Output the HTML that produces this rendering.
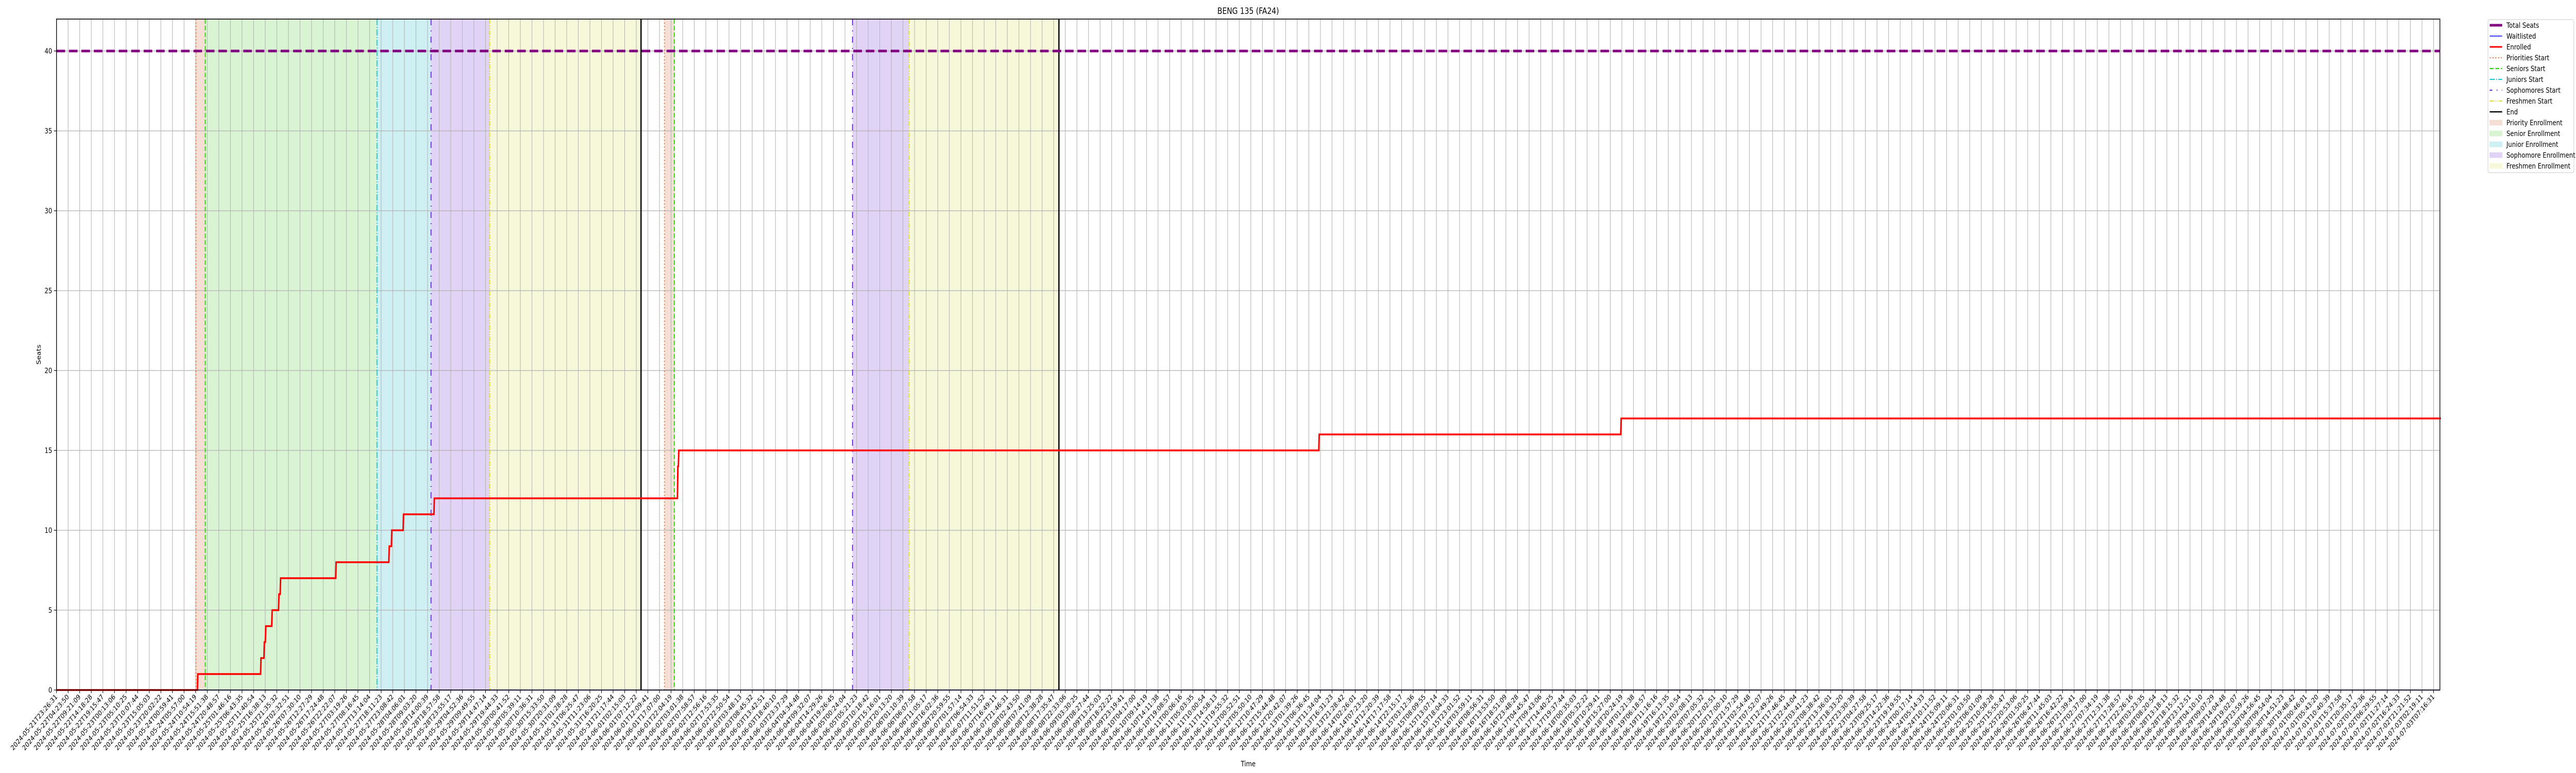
<!DOCTYPE html>
<html><head><meta charset="utf-8"><style>
html,body{margin:0;padding:0;background:#fff;width:100%;height:100%;overflow:hidden;}
svg{display:block;width:100vw;height:100vh;font-family:"DejaVu Sans","Liberation Sans",sans-serif;}
</style></head><body>
<svg id="chart" viewBox="0 0 6000 1500" preserveAspectRatio="none" xmlns="http://www.w3.org/2000/svg" overflow="hidden">
<g id="fills"></g><g id="grid"></g><g id="events"></g><g id="series"></g><g id="axes"></g><g id="legend"></g>
</svg>
<script>
// ---- data (x values in tick-index units) ----
const yTicks = [0,5,10,15,20,25,30,35,40];
const totalSeats = 40;
const enrolledX = [0,12.15,17.60,17.89,18.01,18.56,19.15,19.29,24.08,28.66,28.88,29.89,32.55,53.55,53.63,54.67,108.86,134.90,205.6];
const enrolledY = [0,1,2,3,4,5,6,7,8,9,10,11,12,14,15,15,16,17,17];
const eventNames = ["priority","senior","junior","sophomore","freshmen","end","priority","senior","sophomore","freshmen","end"];
const eventX = [12.03,12.83,27.64,32.30,37.36,50.41,52.43,53.28,68.65,73.53,86.45];
const spanNames = ["priority","senior","junior","sophomore","freshmen","priority","sophomore","freshmen"];
const spanStart = [12.03,12.83,27.64,32.30,37.36,52.43,68.65,73.53];
const spanEnd = [12.83,27.64,32.30,37.36,50.41,53.28,73.53,86.45];
const tickStart = "2024-05-21T23:26:31";
const tickEnd = "2024-07-03T07:16:31";
const tickCount = 206;

const L=131.6,R=5683,T=37,B=1339,STEP=27.008,YMAX=42;
const xs=v=>L+v*STEP, ys=v=>B-(B-T)*v/YMAX;
const NS="http://www.w3.org/2000/svg";
function mk(tag,attrs,parent){const e=document.createElementNS(NS,tag);for(const k in attrs)e.setAttribute(k,attrs[k]);parent.appendChild(e);return e;}
const $=id=>document.getElementById(id);

const fillCol={priority:"#f5dfd4",senior:"#d9f4d3",junior:"#cff0f3",sophomore:"#e0d3f5",freshmen:"#f7f8d9"};
spanNames.forEach((n,i)=>{
  const r=mk("rect",{x:xs(spanStart[i]),y:T,width:xs(spanEnd[i])-xs(spanStart[i]),height:B-T,fill:fillCol[n]},$("fills"));
  
  
});

const t0=Date.parse(tickStart+"Z"),t1=Date.parse(tickEnd+"Z");
const tickLabels=[];
for(let i=0;i<tickCount;i++){tickLabels.push(new Date(t0+(t1-t0)*i/(tickCount-1)).toISOString().slice(0,19));}

for(let i=0;i<tickCount;i++){const x=xs(i);
  const g=mk("line",{x1:x,x2:x,y1:T,y2:B,stroke:"#b0b0b0","stroke-width":1.2},$("grid"));
  
  
}
yTicks.forEach(v=>{
  const g=mk("line",{x1:L,x2:R,y1:ys(v),y2:ys(v),stroke:"#b0b0b0","stroke-width":1.2},$("grid"));
  
  
});

const evStyle={
 priority:{stroke:"#ee7a45",w:2.2,dash:"2.5 4"},
 senior:{stroke:"#33cc11",w:2.2,dash:"9 4"},
 junior:{stroke:"#1cc8d8",w:2.2,dash:"12 3 2 3"},
 sophomore:{stroke:"#6a2bd0",w:2.2,dash:"12 10 2 10"},
 freshmen:{stroke:"#dddd33",w:2.2,dash:"9 3 2 3 2 3"},
 end:{stroke:"#000",w:3,dash:""}
};
eventNames.forEach((n,i)=>{const s=evStyle[n];
  const e=mk("line",{x1:xs(eventX[i]),x2:xs(eventX[i]),y1:T,y2:B,stroke:s.stroke,"stroke-width":s.w,"stroke-dasharray":s.dash},$("events"));
  
  
});

const ts=mk("line",{x1:L,x2:R,y1:ys(totalSeats),y2:ys(totalSeats),stroke:"#800080","stroke-width":5,"stroke-dasharray":"20 9"},$("series"));


const wl=mk("line",{x1:L,x2:R,y1:ys(0),y2:ys(0),stroke:"#0000ff","stroke-width":1.6},$("series"));


let d="";
enrolledX.forEach((x,i)=>{
  if(i===0) d+=`M${xs(x)},${ys(enrolledY[i])}`;
  else d+=` L${xs(x)},${ys(enrolledY[i-1])} L${xs(x)+1},${ys(enrolledY[i])}`;
});
const en=mk("path",{d:d,fill:"none",stroke:"#ff0000","stroke-width":3.5,"stroke-linejoin":"miter"},$("series"));



const ax=$("axes");
const fr=mk("rect",{x:L,y:T,width:R-L,height:B-T,fill:"none",stroke:"#000","stroke-width":1.6},ax);


yTicks.forEach(v=>{
  mk("line",{x1:L-6,x2:L,y1:ys(v),y2:ys(v),stroke:"#000","stroke-width":1.2},ax);
  const t=mk("text",{x:L-10,y:ys(v)+5,"text-anchor":"end","font-size":14},ax);t.textContent=v;
  
  
});
tickLabels.forEach((lab,i)=>{const x=xs(i);
  mk("line",{x1:x,x2:x,y1:B,y2:B+6,stroke:"#000","stroke-width":1.2},ax);
  const t=mk("text",{x:x+3,y:B+14,"text-anchor":"end","font-size":13.5,transform:`rotate(-45 ${x+3} ${B+14})`},ax);
  t.textContent=lab;
  
  
});
const title=mk("text",{x:(L+R)/2,y:27,"text-anchor":"middle","font-size":16.7},ax);title.textContent="BENG 135 (FA24)";


const xl=mk("text",{x:(L+R)/2,y:1487,"text-anchor":"middle","font-size":14},ax);xl.textContent="Time";


const yl=mk("text",{x:95,y:688,"text-anchor":"middle","font-size":14,transform:"rotate(-90 95 688)"},ax);yl.textContent="Seats";



const lg=$("legend");
const box=mk("rect",{x:5795,y:38,width:200,height:297,rx:4,fill:"#fff",stroke:"#d0d0d0","stroke-width":1.2},lg);


const legLabels=["Total Seats","Waitlisted","Enrolled","Priorities Start","Seniors Start","Juniors Start","Sophomores Start","Freshmen Start","End","Priority Enrollment","Senior Enrollment","Junior Enrollment","Sophomore Enrollment","Freshmen Enrollment"];
const legKinds=[["line","#800080",5,""],["line","#0000ff",1.6,""],["line","#ff0000",3,""],["line","#ee7a45",2.2,"2.5 4"],["line","#33cc11",2.2,"9 4"],["line","#1cc8d8",2.2,"12 3 2 3"],["line","#6a2bd0",2.2,"6 10 2 10"],["line","#dddd33",2.2,"9 3 2 3 2 3"],["line","#000",2.5,""],["patch","#f5dfd4"],["patch","#d9f4d3"],["patch","#cff0f3"],["patch","#e0d3f5"],["patch","#f7f8d9"]];
legLabels.forEach((lab,i)=>{const y=49+i*21;const k=legKinds[i];
  const g=mk("g",{},lg);
  
  
  if(k[0]==="line") mk("line",{x1:5799,x2:5828,y1:y,y2:y,stroke:k[1],"stroke-width":k[2],"stroke-dasharray":k[3]},g);
  else mk("rect",{x:5799,y:y-5,width:29,height:10,fill:k[1],stroke:k[1]},g);
  const t=mk("text",{x:5838,y:y+5,"font-size":14},g);t.textContent=lab;
});
</script>
</body></html>
